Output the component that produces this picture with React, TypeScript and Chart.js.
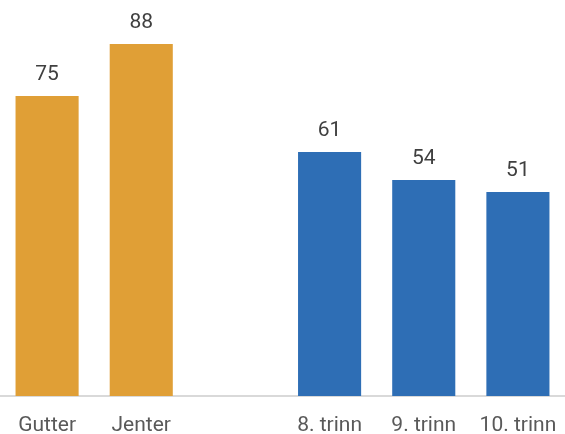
import React, { useEffect, useRef } from "react";
import { Chart, registerables } from "chart.js";

Chart.register(...registerables);

const categories = ["Gutter", "Jenter", "", "8. trinn", "9. trinn", "10. trinn"];
const values = [75, 88, null, 61, 54, 51];
const barColors = ["#E09F36", "#E09F36", "#E09F36", "#2E6EB5", "#2E6EB5", "#2E6EB5"];

const valueLabels = {
  id: "valueLabels",
  afterDatasetsDraw(chart: any) {
    const ctx = chart.ctx;
    const meta = chart.getDatasetMeta(0);
    ctx.save();
    ctx.font = "21px Roboto";
    ctx.fillStyle = "#404040";
    ctx.textAlign = "center";
    ctx.textBaseline = "middle";
    meta.data.forEach((bar: any, i: number) => {
      const v = values[i];
      if (v === null || v === undefined) return;
      ctx.fillText(String(v), bar.x, bar.y - 21.5);
    });
    ctx.restore();
  },
};

export default function App() {
  const ref = useRef<HTMLCanvasElement>(null);
  useEffect(() => {
    if (!ref.current) return;
    const chart = new Chart(ref.current, {
      type: "bar",
      data: {
        labels: categories,
        datasets: [
          {
            data: values as any,
            backgroundColor: barColors,
            barPercentage: 0.67,
            categoryPercentage: 1,
          },
        ],
      },
      options: {
        animation: false,
        responsive: false,
        maintainAspectRatio: false,
        layout: { padding: 0 },
        plugins: { legend: { display: false }, tooltip: { enabled: false } },
        scales: {
          x: {
            grid: { display: false, drawTicks: false },
            border: { display: true, color: "#D9D9D9", width: 2 },
            ticks: {
              color: "#595959",
              font: { family: "Roboto", size: 21 },
              padding: 17,
              maxRotation: 0,
              autoSkip: false,
            },
            afterFit: (scale: any) => {
              scale.height = 38;
              scale.paddingLeft = 0;
              scale.paddingRight = 0;
            },
          },
          y: {
            display: false,
            min: 0,
            max: 99,
          },
        },
      },
      plugins: [valueLabels],
    });
    return () => chart.destroy();
  }, []);
  return (
    <div style={{ position: "fixed", left: 0, top: 0, width: 565, height: 434, background: "#fff" }}>
      <canvas ref={ref} width={565} height={434} style={{ width: 565, height: 434 }} />
    </div>
  );
}
